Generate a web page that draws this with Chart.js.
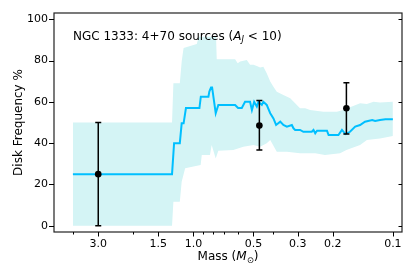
<!DOCTYPE html>
<html>
<head>
<meta charset="utf-8">
<script src="https://cdn.jsdelivr.net/npm/chart.js@4"></script>
<style>
  html, body { margin: 0; padding: 0; background: #fff; }
  #wrap { width: 415px; height: 277px; }
</style>
</head>
<body>
<div id="wrap"><canvas id="chart" width="415" height="277"></canvas></div>
<script>
    // Median disk frequency vs mass (running window), mass in solar masses
    const lineMass = [4.02, 1.28, 1.25, 1.17, 1.145, 1.12, 1.09, 0.933, 0.918, 0.841, 0.832, 0.816, 0.806,
        0.773, 0.750, 0.618, 0.597, 0.572, 0.551, 0.520, 0.509, 0.496, 0.481, 0.472, 0.454, 0.446, 0.429,
        0.412, 0.397, 0.385, 0.367, 0.354, 0.340, 0.321, 0.315, 0.309, 0.292, 0.281, 0.255, 0.250, 0.245,
        0.240, 0.214, 0.210, 0.1875, 0.180, 0.173, 0.164, 0.1545, 0.146, 0.138, 0.127, 0.1227, 0.116, 0.109, 0.100];
    const lineFreq = [25, 25, 40, 40, 49.6, 49.6, 57, 57, 62.5, 62.5, 65, 67, 67,
        54.5, 58.5, 58.5, 57, 57, 60, 60, 56, 60, 57.7, 60, 58.5, 60, 58.5,
        54.5, 52, 48.8, 50.4, 48.8, 48, 48.8, 47.2, 46.4, 46.4, 45.5, 45.5, 46.4, 44.8,
        46, 46, 43.9, 43.9, 46.4, 44.4, 45.5, 48, 48.8, 50.4, 51.2, 50.7, 51.2, 51.6, 51.6];

    // Upper and lower edges of the shaded uncertainty band
    const upperMass = [4.02, 1.28, 1.26, 1.17, 1.145, 1.13, 1.12, 0.962, 0.94, 0.77, 0.764, 0.618, 0.60,
        0.583, 0.540, 0.520, 0.500, 0.481, 0.463, 0.446, 0.429, 0.412, 0.397, 0.382, 0.354, 0.327, 0.309,
        0.292, 0.275, 0.260, 0.223, 0.191, 0.177, 0.164, 0.146, 0.135, 0.125, 0.116, 0.100];
    const upperFreq = [50, 50, 69, 69, 79.5, 83.5, 86, 88, 91.5, 91.5, 80.6, 80.6, 78.7,
        79.5, 80.3, 77.9, 77.9, 77.4, 76.6, 77, 73.8, 69.8, 67.3, 64.9, 63.3, 61.7, 59.3,
        56.9, 56.9, 56, 55.2, 55.2, 56, 57.4, 59.3, 59, 60.1, 59.7, 60.1];
    const lowerMass = [4.02, 1.28, 1.26, 1.17, 1.145, 1.10, 0.92, 0.908, 0.826, 0.81, 0.773, 0.75,
        0.631, 0.562, 0.500, 0.463, 0.429, 0.412, 0.382, 0.340, 0.292, 0.245, 0.219, 0.184, 0.171,
        0.146, 0.135, 0.116, 0.100];
    const lowerFreq = [0, 0, 11.6, 11.6, 21.3, 27.8, 29.4, 34.3, 34.3, 39.1, 32.6, 36.3,
        36.7, 38.3, 39.1, 38.3, 39.9, 41.5, 35.9, 35.9, 35.1, 35.1, 34.3, 35.1, 36.7,
        39.1, 41.5, 42.3, 43.5];

    // Binned measurements with error bars
    const pointMass = [3.0, 0.467, 0.171];
    const pointFreq = [25, 48.5, 56.9];
    const errLow = [0, 36.7, 44.4];
    const errHigh = [50, 60.6, 69.3];

    const xTickValues = [3.0, 1.5, 1.0, 0.5, 0.3, 0.2, 0.1];
    const xTickLabels = ['3.0', '1.5', '1.0', '0.5', '0.3', '0.2', '0.1'];
    const xMinorTicks = [4, 2, 0.9, 0.8, 0.7, 0.6, 0.4];
    const yTicks = [0, 20, 40, 60, 80, 100];

    const FONT = '"DejaVu Sans", sans-serif';
    const toXY = (xs, ys) => xs.map((m, i) => ({ x: m, y: ys[i] }));

    // draw a list of text runs side by side, returns total width
    function runWidth(ctx, runs) {
        let w = 0;
        runs.forEach(r => { ctx.font = r.font; w += ctx.measureText(r.text).width; });
        return w;
    }
    function drawRuns(ctx, runs, x, y) {
        runs.forEach(r => {
            ctx.font = r.font;
            ctx.fillText(r.text, x, y + (r.dy || 0));
            x += ctx.measureText(r.text).width;
        });
    }

    const decorations = {
        id: 'decorations',
        afterDatasetsDraw(chart) {
            const { ctx, scales: { x, y } } = chart;
            ctx.save();
            ctx.strokeStyle = '#000';
            ctx.lineWidth = 1.5;
            pointMass.forEach((m, i) => {
                const px = x.getPixelForValue(m);
                const top = y.getPixelForValue(errHigh[i]);
                const bot = y.getPixelForValue(errLow[i]);
                ctx.beginPath();
                ctx.moveTo(px, top); ctx.lineTo(px, bot);
                ctx.moveTo(px - 3, top); ctx.lineTo(px + 3, top);
                ctx.moveTo(px - 3, bot); ctx.lineTo(px + 3, bot);
                ctx.stroke();
            });
            ctx.restore();
        },
        afterDraw(chart) {
            const { ctx, chartArea: a, scales: { x, y } } = chart;
            ctx.save();
            ctx.strokeStyle = '#222';
            ctx.lineWidth = 1.2;
            ctx.strokeRect(a.left, a.top, a.right - a.left, a.bottom - a.top);

            ctx.lineWidth = 1;
            ctx.strokeStyle = '#000';
            ctx.beginPath();
            yTicks.forEach(v => {
                const py = Math.round(y.getPixelForValue(v)) + 0.5;
                ctx.moveTo(a.left - 5, py); ctx.lineTo(a.left, py);
                ctx.moveTo(a.right - 3.5, py); ctx.lineTo(a.right, py);
            });
            xTickValues.forEach(v => {
                const px = Math.round(x.getPixelForValue(v)) + 0.5;
                ctx.moveTo(px, a.bottom); ctx.lineTo(px, a.bottom + 4.5);
            });
            xMinorTicks.forEach(v => {
                const px = Math.round(x.getPixelForValue(v)) + 0.5;
                ctx.moveTo(px, a.bottom); ctx.lineTo(px, a.bottom + 2.5);
            });
            ctx.stroke();

            ctx.fillStyle = '#000';
            ctx.textBaseline = 'alphabetic';
            ctx.textAlign = 'left';
            const normal = '12px ' + FONT;
            const italic = 'italic 12px ' + FONT;
            const small = 'italic 8.5px ' + FONT;

            const title = [
                { text: 'NGC 1333: 4+70 sources (', font: normal },
                { text: 'A', font: italic },
                { text: 'J', font: small, dy: 2.5 },
                { text: ' < 10)', font: normal }
            ];
            drawRuns(ctx, title, a.left + 19, 39.5);

            const xlabel = [
                { text: 'Mass (', font: normal },
                { text: 'M', font: italic },
                { text: '\u2299', font: '8.5px ' + FONT, dy: 2.5 },
                { text: ')', font: normal }
            ];
            const w = runWidth(ctx, xlabel);
            drawRuns(ctx, xlabel, (a.left + a.right) / 2 - w / 2, 260);
            ctx.restore();
        }
    };

    const ctx = document.getElementById('chart').getContext('2d');
    const chart = new Chart(ctx, {
        type: 'scatter',
        data: {
            datasets: [
                {
                    label: 'lower',
                    data: toXY(lowerMass, lowerFreq),
                    showLine: true,
                    borderColor: 'rgba(0,0,0,0)',
                    borderWidth: 0,
                    pointRadius: 0,
                    fill: false,
                    order: 4
                },
                {
                    label: 'upper',
                    data: toXY(upperMass, upperFreq),
                    showLine: true,
                    borderColor: 'rgba(0,0,0,0)',
                    borderWidth: 0,
                    pointRadius: 0,
                    backgroundColor: 'rgb(212, 244, 245)',
                    fill: 0,
                    order: 3
                },
                {
                    label: 'frequency',
                    data: toXY(lineMass, lineFreq),
                    showLine: true,
                    borderColor: '#00bfff',
                    borderWidth: 2,
                    pointRadius: 0,
                    fill: false,
                    order: 2
                },
                {
                    label: 'bins',
                    data: toXY(pointMass, pointFreq),
                    showLine: false,
                    pointRadius: 3.3,
                    backgroundColor: '#000',
                    borderWidth: 0,
                    order: 1
                }
            ]
        },
        options: {
            responsive: false,
            animation: false,
            devicePixelRatio: 1,
            layout: { padding: { top: 13, right: 13, left: 0, bottom: 0 } },
            plugins: {
                legend: { display: false },
                tooltip: { enabled: false }
            },
            scales: {
                x: {
                    type: 'logarithmic',
                    reverse: true,
                    min: 0.09,
                    max: 5.0,
                    afterBuildTicks: s => { s.ticks = xTickValues.map(v => ({ value: v })); },
                    afterFit: s => { s.height = 45; },
                    grid: { display: false, drawTicks: false },
                    border: { display: false },
                    ticks: {
                        autoSkip: false,
                        maxRotation: 0,
                        padding: 6,
                        color: '#000',
                        font: { family: FONT, size: 11 },
                        callback: (v, i) => xTickLabels[i]
                    }
                },
                y: {
                    type: 'linear',
                    min: -3,
                    max: 103,
                    afterBuildTicks: s => { s.ticks = yTicks.map(v => ({ value: v })); },
                    afterFit: s => { s.width = 54; },
                    grid: { display: false, drawTicks: false },
                    border: { display: false },
                    ticks: {
                        padding: 6,
                        color: '#000',
                        font: { family: FONT, size: 11 }
                    },
                    title: {
                        display: true,
                        text: 'Disk Frequency %',
                        color: '#000',
                        font: { family: FONT, size: 12 },
                        padding: { top: 12, bottom: 0 }
                    }
                }
            }
        },
        plugins: [decorations]
    });
</script>
</body>
</html>
